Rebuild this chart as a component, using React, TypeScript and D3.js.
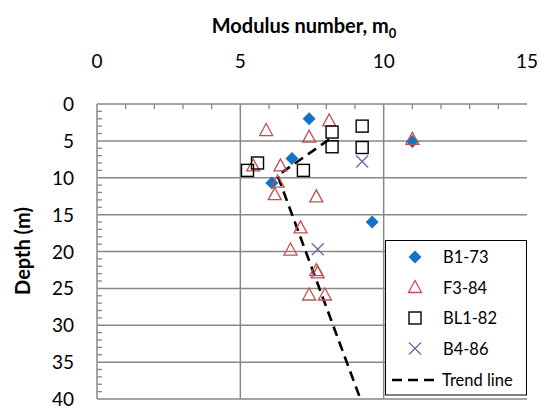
import React from "react";
import * as d3 from "d3";

const xTicks = [0, 5, 10, 15];
const yTicks = [0, 5, 10, 15, 20, 25, 30, 35, 40];

const b173 = [
  { m: 7.4, d: 2.0 },
  { m: 6.8, d: 7.4 },
  { m: 6.1, d: 10.7 },
  { m: 9.6, d: 16.0 },
  { m: 11.0, d: 5.1 },
];
const f384 = [
  { m: 5.9, d: 3.6 },
  { m: 8.1, d: 2.3 },
  { m: 7.4, d: 4.5 },
  { m: 6.4, d: 8.4 },
  { m: 5.45, d: 8.4 },
  { m: 6.3, d: 10.6 },
  { m: 6.2, d: 12.3 },
  { m: 7.65, d: 12.6 },
  { m: 11.0, d: 4.8 },
  { m: 7.1, d: 16.8 },
  { m: 6.75, d: 19.8 },
  { m: 7.65, d: 22.6 },
  { m: 7.7, d: 22.9 },
  { m: 7.4, d: 25.9 },
  { m: 7.95, d: 25.9 },
];
const bl182 = [
  { m: 5.25, d: 9.0 },
  { m: 5.6, d: 8.0 },
  { m: 7.2, d: 9.0 },
  { m: 8.2, d: 3.8 },
  { m: 8.2, d: 5.8 },
  { m: 9.25, d: 3.0 },
  { m: 9.25, d: 5.9 },
];
const b486 = [
  { m: 9.25, d: 7.8 },
  { m: 7.7, d: 19.7 },
];
const trend = [
  { m: 8.1, d: 4.8 },
  { m: 6.3, d: 9.7 },
  { m: 9.15, d: 39.6 },
];

const FONT = "Lato, 'Open Sans', sans-serif";
const GRID = "#888888";

export default function App() {
  const left = 97, right = 527, top = 104, bottom = 399;
  const x = d3.scaleLinear().domain([0, 15]).range([left, right]);
  const y = d3.scaleLinear().domain([0, 40]).range([top, bottom]);
  const line = d3.line<{ m: number; d: number }>().x((p) => x(p.m)).y((p) => y(p.d));

  const diamond = (cx: number, cy: number, k: string | number) => (
    <path key={k} d={`M${cx},${cy - 6.5}L${cx + 6.5},${cy}L${cx},${cy + 6.5}L${cx - 6.5},${cy}Z`} fill="#1572C7" />
  );
  const tri = (cx: number, cy: number, k: string | number) => (
    <path key={k} d={`M${cx},${cy - 7}L${cx + 6.5},${cy + 5}L${cx - 6.5},${cy + 5}Z`} fill="none" stroke="#C0504D" strokeWidth={1.3} />
  );
  const sq = (cx: number, cy: number, k: string | number) => (
    <rect key={k} x={cx - 6} y={cy - 6} width={12} height={12} fill="none" stroke="#000" strokeWidth={1.4} />
  );
  const cross = (cx: number, cy: number, k: string | number) => (
    <path key={k} d={`M${cx - 6},${cy - 6}L${cx + 6},${cy + 6}M${cx + 6},${cy - 6}L${cx - 6},${cy + 6}`} stroke="#8064A2" strokeWidth={1.4} />
  );

  const minorY = d3.range(1, 40).filter((v) => v % 5 !== 0);
  const minorX = d3.range(1, 15).filter((v) => v % 5 !== 0);

  const legend = [
    { label: "B1-73", draw: diamond },
    { label: "F3-84", draw: tri },
    { label: "BL1-82", draw: sq },
    { label: "B4-86", draw: cross },
  ];

  return (
    <svg width={542} height={410} style={{ position: "absolute", left: 0, top: 0 }}>
      <rect width={542} height={410} fill="#fff" />
      {yTicks.filter((v) => v > 0).map((v) => (
        <line key={"gy" + v} x1={left} x2={right} y1={y(v)} y2={y(v)} stroke={GRID} strokeWidth={1.5} />
      ))}
      {[5, 10].map((v) => (
        <line key={"gx" + v} x1={x(v)} x2={x(v)} y1={top} y2={bottom} stroke={GRID} strokeWidth={1.5} />
      ))}
      <line x1={left} x2={right} y1={top} y2={top} stroke={GRID} strokeWidth={1.5} />
      <line x1={left} x2={left} y1={top} y2={bottom} stroke={GRID} strokeWidth={1.5} />
      {minorY.map((v) => (
        <line key={"my" + v} x1={left} x2={left + 5} y1={y(v)} y2={y(v)} stroke={GRID} strokeWidth={1.3} />
      ))}
      {minorX.map((v) => (
        <line key={"mx" + v} x1={x(v)} x2={x(v)} y1={top} y2={top + 5} stroke={GRID} strokeWidth={1.3} />
      ))}
      {xTicks.map((v) => (
        <text key={"tx" + v} x={x(v)} y={68} textAnchor="middle" fontFamily={FONT} fontSize={19} fill="#000">
          {v}
        </text>
      ))}
      {yTicks.map((v) => (
        <text key={"ty" + v} x={74} y={y(v) + 7} textAnchor="end" fontFamily={FONT} fontSize={19} fill="#000">
          {v}
        </text>
      ))}
      <text x={304} y={33} textAnchor="middle" fontFamily={FONT} fontSize={20} fontWeight="bold" fill="#000">
        Modulus number, m<tspan fontSize={13} dy={5}>0</tspan>
      </text>
      <text transform="translate(30,251) rotate(-90)" textAnchor="middle" fontFamily={FONT} fontSize={20} fontWeight="bold" fill="#000">
        Depth (m)
      </text>
      <path d={line(trend) || ""} fill="none" stroke="#000" strokeWidth={2.6} strokeDasharray="10,6" />
      {b173.map((p, i) => diamond(x(p.m), y(p.d), "b" + i))}
      {f384.map((p, i) => tri(x(p.m), y(p.d), "f" + i))}
      {bl182.map((p, i) => sq(x(p.m), y(p.d), "s" + i))}
      {b486.map((p, i) => cross(x(p.m), y(p.d), "c" + i))}
      <rect x={385.5} y={240.5} width={141} height={154.5} fill="#fff" stroke="#000" strokeWidth={1} />
      {legend.map((l, i) => (
        <g key={"lg" + i}>
          {l.draw(415, 257 + i * 30.5, "lm" + i)}
          <text x={443} y={257 + i * 30.5 + 6} fontFamily={FONT} fontSize={16.5} fill="#000">
            {l.label}
          </text>
        </g>
      ))}
      <line x1={392} x2={438} y1={380} y2={380} stroke="#000" strokeWidth={2.6} strokeDasharray="10,6" />
      <text x={442} y={386} fontFamily={FONT} fontSize={16.5} fill="#000">
        Trend line
      </text>
    </svg>
  );
}
